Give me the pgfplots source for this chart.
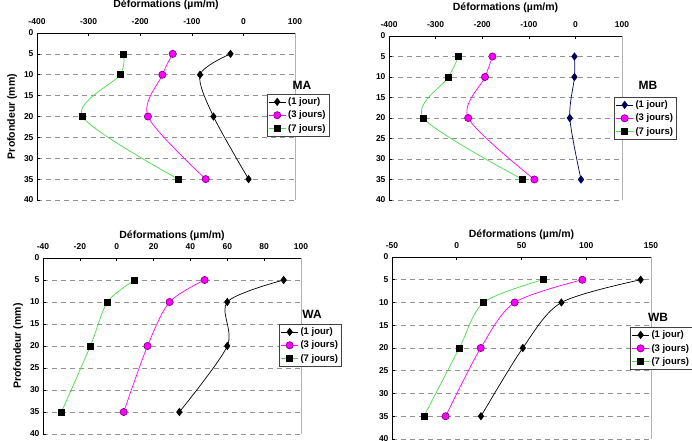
\documentclass[border=0pt]{standalone}
\usepackage{fontspec}
\setmainfont{Liberation Sans}
\usepackage{pgfplots}
\pgfplotsset{compat=1.18}

\definecolor{mag}{RGB}{255,0,255}
\definecolor{grn}{RGB}{70,220,70}
\definecolor{navy}{RGB}{0,0,90}

\pgfplotsset{
 panel/.style={
  scale only axis,
  y dir=reverse,
  ymin=0,ymax=40,ytick={0,5,...,40},
  axis x line*=top, axis y line*=left,
  axis line style={-, black, line width=0.8pt},
  xticklabel pos=upper,
  ymajorgrids, grid style={dash pattern=on 5pt off 4pt, gray!85, line width=0.6pt},
  tick align=inside, major tick length=3pt,
  tick style={black, line width=0.6pt},
  tick label style={font=\fontsize{8.5}{9}\selectfont\bfseries},
  xticklabel style={yshift=5pt},
  /pgf/number format/assume math mode=true,
  xlabel={Déformations (µm/m)},
  label style={font=\fontsize{10.5}{12}\selectfont\bfseries},
  legend style={font=\fontsize{9.5}{10}\selectfont\bfseries, draw=black!75, anchor=north west, inner sep=1.5pt, row sep=1pt, fill=white},
  legend cell align=left,
  clip=false,
 },
 one/.style={black, line width=0.7pt, smooth, mark=diamond*, mark size=3.6pt, mark options={solid, fill=black}},
 three/.style={mag, line width=0.7pt, smooth, mark=*, mark size=3.6pt, mark options={fill=mag, draw=black!50!mag}},
 seven/.style={grn, line width=0.7pt, smooth, mark=square*, mark size=3pt, mark options={fill=black, draw=black}},
}

\begin{document}
\begin{tikzpicture}
\useasboundingbox (0,0) rectangle (692pt,440pt);

% MA
\begin{axis}[panel, at={(37pt,407pt)}, anchor=north west, width=258pt, height=167pt,
  xmin=-400, xmax=100, xtick={-400,-300,...,100},
  ylabel={Profondeur (mm)}, xlabel style={yshift=2pt},
  legend style={at={(0.89,0.635)}}]
\draw[gray!60, line width=0.6pt] (axis description cs:1,0) -- (axis description cs:1,1);
\addplot[one] coordinates {(-25,5) (-84,10) (-58,20) (10,35)};
\addplot[three] coordinates {(-137,5) (-157,10) (-185,20) (-73,35)};
\addplot[seven] coordinates {(-232,5) (-239,10) (-312,20) (-126,35)};
\legend{(1 jour),(3 jours),(7 jours)}
\end{axis}

% MB
\begin{axis}[panel, at={(389pt,404pt)}, anchor=north west, width=233pt, height=164pt,
  xmin=-400, xmax=100, xtick={-400,-300,...,100}, xlabel style={yshift=2pt},
  legend style={at={(0.966,0.628)}},
  one/.append style={navy, mark options={fill=navy, draw=navy}}]
\draw[gray!60, line width=0.6pt] (axis description cs:1,0) -- (axis description cs:1,1);
\addplot[one] coordinates {(-2,5) (-2,10) (-12,20) (12,35)};
\addplot[three] coordinates {(-178,5) (-194,10) (-230,20) (-88,35)};
\addplot[seven] coordinates {(-251,5) (-272,10) (-326,20) (-113,35)};
\legend{(1 jour),(3 jours),(7 jours)}
\end{axis}

% WA
\begin{axis}[panel, at={(43pt,182pt)}, anchor=north west, width=258pt, height=176pt,
  xmin=-40, xmax=100, xtick={-40,-20,...,100},
  ylabel={Profondeur (mm)}, xlabel style={yshift=-4pt},
  legend style={at={(0.915,0.625)}}]
\draw[gray!60, line width=0.6pt] (axis description cs:1,0) -- (axis description cs:1,1);
\addplot[one] coordinates {(90.6,5) (60,10) (60,20) (34,35)};
\addplot[three] coordinates {(47.7,5) (28.7,10) (16.7,20) (3.8,35)};
\addplot[seven] coordinates {(9.8,5) (-5,10) (-14.3,20) (-30,35)};
\legend{(1 jour),(3 jours),(7 jours)}
\end{axis}

% WB
\begin{axis}[panel, at={(392pt,183pt)}, anchor=north west, width=259pt, height=182pt,
  xmin=-50, xmax=150, xtick={-50,0,...,150}, xlabel style={yshift=-4pt},
  legend style={at={(0.919,0.615)}}]
\draw[gray!60, line width=0.6pt] (axis description cs:1,0) -- (axis description cs:1,1);
\addplot[one] coordinates {(142,5) (80.8,10) (51,20) (18.7,35)};
\addplot[three] coordinates {(97,5) (44.7,10) (18.5,20) (-8.6,35)};
\addplot[seven] coordinates {(66.6,5) (20.8,10) (2,20) (-25.3,35)};
\legend{(1 jour),(3 jours),(7 jours)}
\end{axis}

\node[font=\fontsize{12}{14}\selectfont\bfseries] at (302pt,355pt) {MA};
\node[font=\fontsize{12}{14}\selectfont\bfseries] at (648pt,355pt) {MB};
\node[font=\fontsize{12}{14}\selectfont\bfseries] at (312pt,126pt) {WA};
\node[font=\fontsize{12}{14}\selectfont\bfseries] at (658pt,123pt) {WB};
\end{tikzpicture}
\end{document}
